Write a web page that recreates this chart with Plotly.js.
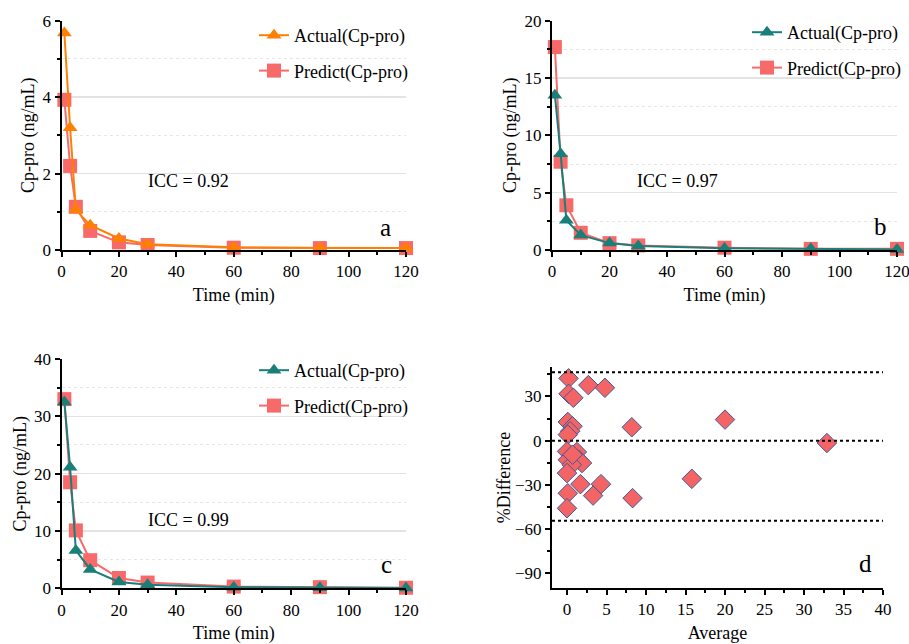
<!DOCTYPE html>
<html>
<head>
<meta charset="utf-8">
<script src="https://cdn.plot.ly/plotly-3.0.1.min.js"></script>
<style>html,body{margin:0;padding:0;background:#fff;}#chart{width:909px;height:644px;}</style>
</head>
<body>
<div id="chart"></div>
<script>
// ---- data ----
const timeMin = [1, 3, 5, 10, 20, 30, 60, 90, 120];
const aActual  = [5.68, 3.2, 1.05, 0.65, 0.3, 0.15, 0.07, 0.05, 0.05];
const aPredict = [3.93, 2.2, 1.13, 0.5, 0.2, 0.13, 0.06, 0.05, 0.05];
const bActual  = [13.5, 8.4, 2.6, 1.3, 0.6, 0.35, 0.15, 0.1, 0.05];
const bPredict = [17.7, 7.7, 3.9, 1.5, 0.6, 0.4, 0.2, 0.1, 0.1];
const cActual  = [32.5, 21.1, 6.6, 3.3, 1.1, 0.6, 0.2, 0.1, 0.05];
const cPredict = [33.0, 18.5, 10.1, 4.9, 1.8, 1.0, 0.3, 0.2, 0.1];
const dAverage = [0.2, 2.7, 4.8, 0.2, 0.8, 0.1, 0.7, 8.2, 0.4, 0.1, 0.0, 1.25, 0.1, 1.5, 1.9, 0.6, 0.7, 0.0, 1.7, 4.3, 0.1, 3.3, 8.3, 0.0, 15.8, 20.0, 32.9];
const dDiff    = [42.3, 37.7, 35.9, 31.8, 29.1, 12.7, 9.8, 9.1, 6.4, 4.1, -7.3, -7.7, -13, -13, -15.2, -16.4, -9.5, -22, -29.5, -29.5, -35.7, -37.3, -39, -45.9, -25.9, 14.3, -1.6];
const dLimits  = [46.4, 0, -54.3];
const iccLabels = ["ICC = 0.92", "ICC = 0.97", "ICC = 0.99"];
const panelLetters = ["a", "b", "c", "d"];
const seriesNames = ["Actual(Cp-pro)", "Predict(Cp-pro)"];

// ---- styles ----
const FONT = '"Liberation Serif", "Times New Roman", Times, serif';
const ORANGE = "#ff8000", TEAL = "#1a7f78", PINK = "#f86a6a";
const W = 909, H = 644;
const px = v => v / W;
const py = v => (H - v) / H;

function lineTrace(x, y, color, symbol, size, name, rank, xa, ya, leg) {
  return {
    x, y, name, type: "scatter", mode: "lines+markers",
    xaxis: xa, yaxis: ya, legend: leg, legendgroup: leg + name, legendrank: rank,
    line: {color, width: 2},
    marker: {color, symbol, size},
    cliponaxis: false
  };
}
const traces = [
  lineTrace(timeMin, aPredict, PINK, "square", 14, seriesNames[1], 2, "x", "y", "legend"),
  lineTrace(timeMin, aActual, ORANGE, "triangle-up", 13, seriesNames[0], 1, "x", "y", "legend"),
  lineTrace(timeMin, bPredict, PINK, "square", 14, seriesNames[1], 2, "x2", "y2", "legend2"),
  lineTrace(timeMin, bActual, TEAL, "triangle-up", 13, seriesNames[0], 1, "x2", "y2", "legend2"),
  lineTrace(timeMin, cPredict, PINK, "square", 14, seriesNames[1], 2, "x3", "y3", "legend3"),
  lineTrace(timeMin, cActual, TEAL, "triangle-up", 13, seriesNames[0], 1, "x3", "y3", "legend3"),
  {
    x: dAverage, y: dDiff, type: "scatter", mode: "markers", xaxis: "x4", yaxis: "y4",
    showlegend: false, cliponaxis: false,
    marker: {symbol: "diamond", size: 15, color: "#f46464", line: {color: "#3b5b9b", width: 1}}
  }
];

const tickFont = {family: FONT, size: 17, color: "#000"};
const titleFont = {family: FONT, size: 18, color: "#000"};

function xAxis(dom, anchor, range, dtick, minorD, title) {
  return {
    domain: dom, anchor, range, dtick, tick0: 0,
    showline: true, linecolor: "#000", linewidth: 2,
    ticks: "outside", ticklen: 5, tickwidth: 2, tickcolor: "#000",
    minor: {dtick: minorD, ticks: "outside", ticklen: 3, tickwidth: 2, tickcolor: "#000", showgrid: false},
    showgrid: false, zeroline: false, tickfont: tickFont, ticklabeloverflow: "allow",
    title: {text: title, font: titleFont, standoff: 8}
  };
}
function yAxis(dom, anchor, range, dtick, minorD, grid) {
  return {
    domain: dom, anchor, range, dtick, tick0: 0,
    showline: true, linecolor: "#000", linewidth: 2,
    ticks: "outside", ticklen: 5, tickwidth: 2, tickcolor: "#000",
    minor: {dtick: minorD, ticks: "outside", ticklen: 3, tickwidth: 2, tickcolor: "#000",
            showgrid: grid, gridcolor: "#e6e6e6", griddash: "dot", gridwidth: 1},
    showgrid: grid, gridcolor: "#e3e3e3", gridwidth: 1.5, zeroline: false, tickfont: tickFont,
    ticklabeloverflow: "allow",
    title: {text: grid ? "Cp-pro (ng/mL)" : "%Difference", font: titleFont, standoff: 3}
  };
}

const xA = [px(61.5), px(406)], xB = [px(552), px(897)];
const yTop = [py(250), py(20.7)], yBotC = [py(588.3), py(359)], yBotD = [py(588), py(367)];

function legendCfg(x, y) {
  return {x, y, xanchor: "right", yanchor: "top", bgcolor: "rgba(0,0,0,0)",
          font: {family: FONT, size: 18, color: "#000"}, traceorder: "grouped", tracegroupgap: 9};
}

function ann(text, x, y, size) {
  return {text, x: px(x), y: py(y), xref: "paper", yref: "paper", showarrow: false,
          font: {family: FONT, size, color: "#000"}, xanchor: "center", yanchor: "middle"};
}

const layout = {
  width: W, height: H, margin: {l: 0, r: 0, t: 0, b: 0},
  paper_bgcolor: "#fff", plot_bgcolor: "#fff",
  font: {family: FONT, color: "#000"},
  xaxis: xAxis(xA, "y", [0, 120], 20, 10, "Time (min)"),
  yaxis: yAxis(yTop, "x", [0, 6], 2, 1, true),
  xaxis2: xAxis(xB, "y2", [0, 120], 20, 10, "Time (min)"),
  yaxis2: yAxis(yTop, "x2", [0, 20], 5, 2.5, true),
  xaxis3: xAxis(xA, "y3", [0, 120], 20, 10, "Time (min)"),
  yaxis3: yAxis(yBotC, "x3", [0, 40], 10, 5, true),
  xaxis4: xAxis([px(552), px(883)], "y4", [-1.9, 40], 5, 2.5, "Average"),
  yaxis4: yAxis(yBotD, "x4", [-100, 50], 30, 15, false),
  legend: legendCfg(px(413), py(17)),
  legend2: legendCfg(px(906), py(14)),
  legend3: legendCfg(px(413), py(352)),
  shapes: dLimits.map(v => ({type: "line", xref: "x4 domain", yref: "y4", x0: 0, x1: 1, y0: v, y1: v,
                             line: {color: "#000", width: 2, dash: "dot"}})),
  annotations: [
    ann(iccLabels[0], 188, 181, 18),
    ann(iccLabels[1], 677, 181, 18),
    ann(iccLabels[2], 188, 520, 18),
    ann(panelLetters[0], 385, 227, 25),
    ann(panelLetters[1], 880, 226, 25),
    ann(panelLetters[2], 386, 564, 25),
    ann(panelLetters[3], 865, 563, 25)
  ]
};
layout.yaxis4.tickvals = [-90, -60, -30, 0, 30];
layout.yaxis4.title.standoff = 0;

Plotly.newPlot("chart", traces, layout, {displayModeBar: false, staticPlot: true});
</script>
</body>
</html>
